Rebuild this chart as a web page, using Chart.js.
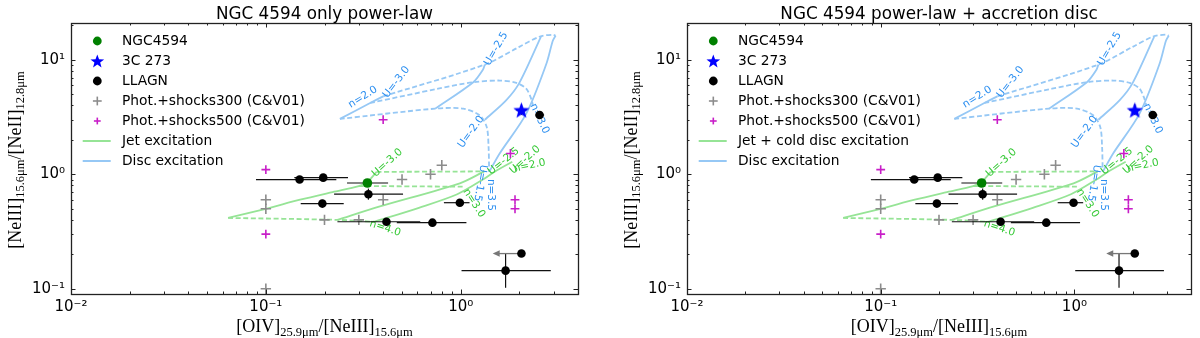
<!DOCTYPE html>
<html><head><meta charset="utf-8">
<script src="https://cdn.jsdelivr.net/npm/chart.js@4.4.0/dist/chart.umd.min.js"></script>
<style>
html,body{margin:0;padding:0;background:#fff;}
#wrap{position:relative;width:1200px;height:338px;overflow:hidden;}
canvas{position:absolute;top:0;}
</style></head><body>
<div id="wrap"><canvas id="c1" width="600" height="338" style="left:0"></canvas><canvas id="c2" width="600" height="338" style="left:600px"></canvas></div>
<script>
// ---------------- data ----------------
const xTickVals = [0.01, 0.1, 1];
const xTickLabels = ['10⁻²', '10⁻¹', '10⁰'];
const yTickVals = [0.1, 1, 10];
const yTickLabels = ['10⁻¹', '10⁰', '10¹'];

// NGC4594
const ngcX = [0.332], ngcY = [0.84];
const ngcXLo = [0.261], ngcXHi = [0.424], ngcYLo = [0.80], ngcYHi = [0.88];
// 3C 273
const q3cX = [2.05], q3cY = [3.65];
const q3cXLo = [1.92], q3cXHi = [2.18], q3cYLo = [3.3], q3cYHi = [4.1];
// LLAGN
const llagnX   = [0.149, 0.197, 0.336, 0.195, 0.416, 0.716, 0.99, 2.54, 2.05, 1.70];
const llagnY   = [0.90, 0.935, 0.67, 0.555, 0.385, 0.378, 0.565, 3.30, 0.203, 0.144];
const llagnXLo = [0.089, 0.14, 0.224, 0.151, 0.233, 0.47, 0.82, 2.42, null, 1.01];
const llagnXHi = [0.23, 0.264, 0.506, 0.251, 0.62, 1.07, 1.11, 2.68, null, 2.90];
const llagnYLo = [0.86, 0.89, 0.60, 0.53, 0.37, 0.365, 0.53, 3.12, 0.19, 0.102];
const llagnYHi = [0.95, 0.98, 0.75, 0.58, 0.40, 0.392, 0.60, 3.48, 0.217, 0.203];
// upper limit arrow (LLAGN)
const limitX = [2.05], limitY = [0.203], limitToX = [1.46];
// Photoionisation + shocks (C&V01)
const shock300X = [0.1, 0.1, 0.1, 0.2, 0.3, 0.4, 0.5, 0.7, 0.8];
const shock300Y = [0.6, 0.5, 0.1, 0.4, 0.4, 0.6, 0.9, 1.0, 1.2];
const shock500X = [0.1, 0.1, 0.4, 1.8, 1.9, 1.9];
const shock500Y = [1.1, 0.3, 3.0, 1.52, 0.6, 0.5];

// Disc excitation grid
const discDash1 = [[0.24,3.05],[0.74,3.75],[1.03,3.75],[1.25,3.28],[1.36,2.59],[1.39,1.74],[1.40,1.05]];
const discDash2 = [[0.343,4.2],[0.766,5.6],[1.16,6.38],[1.59,6.6],[1.93,6.3],[2.17,5.6],[2.30,4.57],[2.35,4.0]];
const discDash3 = [[0.40,4.8],[1.33,9.1],[2.0,13.0],[2.55,16.0],[2.97,16.6],[3.07,16.3]];
const discSolid1 = [[0.24,3.05],[0.343,4.2],[0.40,4.8]];
const discSolid2 = [[0.74,3.75],[1.16,6.38],[1.30,8.2],[1.33,9.1]];
const discSolid3 = [[1.33,3.0],[1.71,4.43],[2.0,6.3],[2.58,15.9]];
const discSolid4 = [[1.40,1.05],[1.585,1.52],[2.17,3.39],[2.75,9.2],[2.97,14.7],[3.07,16.3]];
// Jet excitation grid
const jetDash1 = [[0.064,0.416],[0.233,0.40],[0.36,0.385]];
const jetDash2 = [[0.30,0.79],[1.03,0.78]];
const jetDash3 = [[0.37,1.05],[1.32,1.06]];
const jetSolid1 = [[0.064,0.416],[0.10,0.50],[0.15,0.60],[0.22,0.70],[0.30,0.79],[0.33,0.85],[0.37,1.05]];
const jetSolid2 = [[0.233,0.40],[0.385,0.524],[0.99,0.835],[1.32,1.06]];
const jetSolid3 = [[0.36,0.385],[0.61,0.51],[0.96,0.67],[1.30,0.90],[1.50,1.06],[1.84,1.29]];

// grid annotations: text, anchor value, rotation (deg)
const discLabels = [
  ['n=2.0', 0.315, 4.73, -32], ['U=-3.0', 0.468, 6.38, -52], ['U=-2.5', 1.52, 12.5, -60],
  ['U=-2.0', 1.13, 2.35, -54], ['n=3.0', 2.54, 3.07, 65], ['n=3.5', 1.42, 0.66, 90], ['U=-1.5', 1.26, 0.84, 100]
];
const jetLabels = [
  ['U=-3.0', 0.42, 1.26, -42], ['n=4.0', 0.41, 0.337, 18], ['n=3.0', 1.17, 0.56, 57],
  ['U=-2.5', 1.66, 1.30, -39], ['U=-2.0', 2.14, 1.34, -42], ['n=2.0', 2.26, 1.19, -12]
];

const panels = [
  {id:'c1', title:'NGC 4594 only power-law', jet:'Jet excitation', left:71, right:22},
  {id:'c2', title:'NGC 4594 power-law + accretion disc', jet:'Jet + cold disc excitation', left:87, right:5.5}
];

// ---------------- styles ----------------
const BLUE_LINE = 'rgb(150,200,245)', GREEN_LINE = 'rgb(150,228,150)';
const BLUE_TXT = '#2a8ef0', GREEN_TXT = '#35c935';
const GRAY = '#8c8c8c', MAG = '#c81ec8';
const FONT = '"DejaVu Sans"';
Chart.defaults.font.family = 'DejaVu Sans';

function pts(xs, ys){ return xs.map((x,i)=>({x:x, y:ys[i]})); }
function pairs(a){ return a.map(p=>({x:p[0], y:p[1]})); }

function starPath(g, cx, cy, R){
  g.beginPath();
  for (let i=0;i<10;i++){
    const r = (i%2) ? R*0.42 : R;
    const a = -Math.PI/2 + i*Math.PI/5;
    g.lineTo(cx + r*Math.cos(a), cy + r*Math.sin(a));
  }
  g.closePath();
}
function starCanvas(R){
  const s = Math.ceil(R*2+4);
  const c = document.createElement('canvas'); c.width = c.height = s;
  const g = c.getContext('2d');
  starPath(g, s/2, s/2 + R*0.1, R);
  g.fillStyle = '#0000ff'; g.fill();
  return c;
}
const STAR = starCanvas(8.5);

function buildDatasets(){
  const ds = [];
  const line = (arr, color, dashed) => ({data:pairs(arr), showLine:true, borderColor:color, backgroundColor:color,
    borderWidth:1.8, borderDash: dashed ? [5,2.6] : [], pointRadius:0, pointHoverRadius:0, tension:0.3, order:10});
  [jetDash1, jetDash2, jetDash3].forEach(a=>ds.push(line(a, GREEN_LINE, true)));
  [jetSolid1, jetSolid2, jetSolid3].forEach(a=>ds.push(line(a, GREEN_LINE, false)));
  [discDash1, discDash2, discDash3].forEach(a=>ds.push(line(a, BLUE_LINE, true)));
  [discSolid1, discSolid2, discSolid3, discSolid4].forEach(a=>ds.push(line(a, BLUE_LINE, false)));
  ds.push({label:'shocks500', data:pts(shock500X, shock500Y), pointStyle:'cross', pointRadius:4.4, borderColor:MAG, borderWidth:1.6, order:4});
  ds.push({label:'shocks300', data:pts(shock300X, shock300Y), pointStyle:'cross', pointRadius:5.2, borderColor:GRAY, borderWidth:1.6, order:3});
  ds.push({label:'llagn', data:pts(llagnX, llagnY), pointStyle:'circle', pointRadius:4.3, backgroundColor:'#000', borderColor:'#000', borderWidth:0, order:2});
  ds.push({label:'3c273', data:pts(q3cX, q3cY), pointStyle:STAR, pointRadius:8, order:1});
  ds.push({label:'ngc', data:pts(ngcX, ngcY), pointStyle:'circle', pointRadius:4.8, backgroundColor:'#008000', borderColor:'#008000', borderWidth:0, order:0});
  return ds;
}

function drawErrorBars(chart){
  const ctx = chart.ctx, xs = chart.scales.x, ys = chart.scales.y;
  const X = v => xs.getPixelForValue(v), Y = v => ys.getPixelForValue(v);
  ctx.save();
  ctx.strokeStyle = '#111'; ctx.lineWidth = 1.2;
  const seg = (x1,y1,x2,y2) => { ctx.beginPath(); ctx.moveTo(X(x1),Y(y1)); ctx.lineTo(X(x2),Y(y2)); ctx.stroke(); };
  llagnX.forEach((x,i)=>{
    if (llagnXLo[i] != null) seg(llagnXLo[i], llagnY[i], llagnXHi[i], llagnY[i]);
    if (llagnYLo[i] != null) seg(x, llagnYLo[i], x, llagnYHi[i]);
  });
  ngcX.forEach((x,i)=>{ seg(ngcXLo[i], ngcY[i], ngcXHi[i], ngcY[i]); seg(x, ngcYLo[i], x, ngcYHi[i]); });
  ctx.strokeStyle = '#444';
  q3cX.forEach((x,i)=>{ seg(q3cXLo[i], q3cY[i], q3cXHi[i], q3cY[i]); seg(x, q3cYLo[i], x, q3cYHi[i]); });
  // upper-limit arrow
  ctx.strokeStyle = '#777'; ctx.fillStyle = '#777'; ctx.lineWidth = 1.3;
  limitX.forEach((x,i)=>{
    const x1 = X(x), x2 = X(limitToX[i]), y = Y(limitY[i]);
    ctx.beginPath(); ctx.moveTo(x1, y); ctx.lineTo(x2 + 4, y); ctx.stroke();
    ctx.beginPath(); ctx.moveTo(x2, y); ctx.lineTo(x2 + 7, y - 3.2); ctx.lineTo(x2 + 7, y + 3.2); ctx.closePath(); ctx.fill();
  });
  ctx.restore();
}

function drawModelLabels(chart){
  const ctx = chart.ctx, xs = chart.scales.x, ys = chart.scales.y;
  ctx.save();
  ctx.font = '10.5px ' + FONT; ctx.textAlign = 'center'; ctx.textBaseline = 'middle';
  const put = (arr, col) => arr.forEach(l=>{
    ctx.save(); ctx.translate(xs.getPixelForValue(l[1]), ys.getPixelForValue(l[2]));
    ctx.rotate(l[3]*Math.PI/180); ctx.fillStyle = col; ctx.fillText(l[0], 0, 0); ctx.restore();
  });
  put(jetLabels, GREEN_TXT);
  put(discLabels, BLUE_TXT);
  ctx.restore();
}

function drawMixed(ctx, parts, cx, baseY, main, sub, subOff){
  let w = 0;
  parts.forEach(p=>{ ctx.font = p[1] ? sub : main; w += ctx.measureText(p[0]).width; });
  let x = cx - w/2;
  ctx.textAlign = 'left'; ctx.textBaseline = 'alphabetic';
  parts.forEach(p=>{ ctx.font = p[1] ? sub : main; ctx.fillText(p[0], x, baseY + (p[1] ? subOff : 0)); x += ctx.measureText(p[0]).width; });
}

function decorate(chart, panel){
  const ctx = chart.ctx, ca = chart.chartArea, xs = chart.scales.x, ys = chart.scales.y;
  ctx.save();
  // ticks (inward, all four sides)
  ctx.strokeStyle = '#222'; ctx.lineWidth = 1;
  const tick = (x1,y1,x2,y2)=>{ ctx.beginPath(); ctx.moveTo(x1,y1); ctx.lineTo(x2,y2); ctx.stroke(); };
  for (let e=-2; e<=0; e++) for (let k=1;k<=9;k++){
    const v = k*Math.pow(10,e); if (v < xs.min*0.999 || v > xs.max*1.001) continue;
    const px = Math.round(xs.getPixelForValue(v)) + 0.5, L = (k===1) ? 4.5 : 2.5;
    tick(px, ca.bottom, px, ca.bottom - L); tick(px, ca.top, px, ca.top + L);
  }
  for (let e=-2; e<=1; e++) for (let k=1;k<=9;k++){
    const v = k*Math.pow(10,e); if (v < ys.min*0.999 || v > ys.max*1.001) continue;
    const py = Math.round(ys.getPixelForValue(v)) + 0.5, L = (k===1) ? 4.5 : 2.5;
    tick(ca.left, py, ca.left + L, py); tick(ca.right, py, ca.right - L, py);
  }
  // frame
  ctx.lineWidth = 1.3; ctx.strokeStyle = '#222';
  ctx.strokeRect(Math.round(ca.left)+0.5, Math.round(ca.top)+0.5, Math.round(ca.right-ca.left), Math.round(ca.bottom-ca.top));
  // title
  ctx.fillStyle = '#000'; ctx.font = '16.8px ' + FONT; ctx.textAlign = 'center'; ctx.textBaseline = 'alphabetic';
  ctx.fillText(panel.title, (ca.left+ca.right)/2, 19);
  // axis titles
  const MAIN = '18px "Liberation Serif"', SUB = '12.5px "Liberation Serif"';
  drawMixed(ctx, [['[OIV]',0],['25.9μm',1],['/[NeIII]',0],['15.6μm',1]], (ca.left+ca.right)/2, 332, MAIN, SUB, 3.5);
  ctx.save(); ctx.translate(ca.left - 50.5, 160); ctx.rotate(-Math.PI/2);
  drawMixed(ctx, [['[NeIII]',0],['15.6μm',1],['/[NeII]',0],['12.8μm',1]], 0, 0, MAIN, SUB, 3.5);
  ctx.restore();
  // legend
  const mx = ca.left + 26.3, tx = ca.left + 51, y0 = ca.top + 18, dy = 20;
  ctx.font = '13.8px ' + FONT; ctx.textAlign = 'left'; ctx.textBaseline = 'middle'; ctx.fillStyle = '#000';
  const items = ['NGC4594','3C 273','LLAGN','Phot.+shocks300 (C&V01)','Phot.+shocks500 (C&V01)', panel.jet, 'Disc excitation'];
  items.forEach((t,i)=>{ ctx.fillStyle = '#000'; ctx.fillText(t, tx, y0 + i*dy + 0.5); });
  let y = y0;
  ctx.fillStyle = '#008000'; ctx.beginPath(); ctx.arc(mx, y, 4.4, 0, 2*Math.PI); ctx.fill();
  y += dy; starPath(ctx, mx, y + 0.6, 7.2); ctx.fillStyle = '#0000ff'; ctx.fill();
  y += dy; ctx.fillStyle = '#000'; ctx.beginPath(); ctx.arc(mx, y, 4.4, 0, 2*Math.PI); ctx.fill();
  y += dy; ctx.strokeStyle = GRAY; ctx.lineWidth = 1.6; tick(mx-4.4, y, mx+4.4, y); tick(mx, y-4.4, mx, y+4.4);
  y += dy; ctx.strokeStyle = MAG; tick(mx-3.4, y, mx+3.4, y); tick(mx, y-3.4, mx, y+3.4);
  y += dy; ctx.strokeStyle = GREEN_LINE; ctx.lineWidth = 2; tick(ca.left+11.7, y, ca.left+39.7, y);
  y += dy; ctx.strokeStyle = BLUE_LINE; tick(ca.left+11.7, y, ca.left+39.7, y);
  ctx.restore();
}

function makeChart(panel){
  const plugin = {
    id: 'deco_' + panel.id,
    beforeDatasetDraw(chart, args){
      const lab = chart.data.datasets[args.index].label;
      if (lab === 'shocks500') drawModelLabels(chart);
      if (lab === 'llagn') drawErrorBars(chart);
    },
    afterDraw(chart){ decorate(chart, panel); }
  };
  return new Chart(document.getElementById(panel.id), {
    type: 'scatter',
    data: { datasets: buildDatasets() },
    options: {
      responsive: false, animation: false, events: [],
      layout: { padding: { top: 23, right: panel.right, left: 0, bottom: 0 } },
      plugins: { legend: { display: false }, tooltip: { enabled: false }, title: { display: false } },
      scales: {
        x: {
          type: 'logarithmic', min: 0.01, max: 4, bounds: 'data',
          grid: { display: false, drawTicks: false }, border: { display: false },
          afterBuildTicks: s => { s.ticks = xTickVals.map(v => ({ value: v })); },
          afterFit: s => { s.height = 44; },
          ticks: { autoSkip: false, maxRotation: 0, minRotation: 0, padding: 4, color: '#000',
                   font: { family: 'DejaVu Sans', size: 15 }, callback: (v, i) => xTickLabels[i] }
        },
        y: {
          type: 'logarithmic', min: 0.09, max: 21, bounds: 'data',
          grid: { display: false, drawTicks: false }, border: { display: false },
          afterBuildTicks: s => { s.ticks = yTickVals.map(v => ({ value: v })); },
          afterFit: s => { s.width = panel.left; },
          ticks: { autoSkip: false, padding: 6, color: '#000',
                   font: { family: 'DejaVu Sans', size: 15 }, callback: (v, i) => yTickLabels[i] }
        }
      }
    },
    plugins: [plugin]
  });
}
panels.forEach(makeChart);
</script>
</body></html>
